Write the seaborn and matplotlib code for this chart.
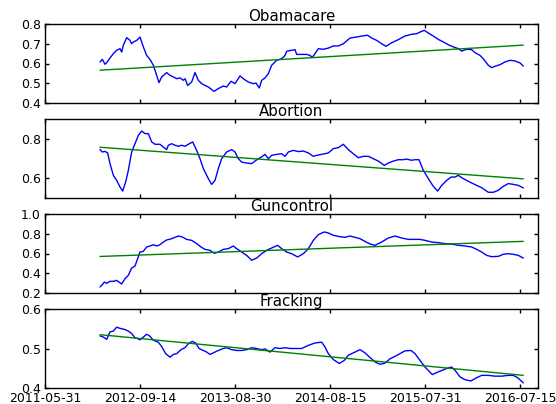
import matplotlib
matplotlib.use("Agg")
import matplotlib.pyplot as plt
import seaborn as sns

# ---------------- data ----------------
titles = ["Obamacare", "Abortion", "Guncontrol", "Fracking"]
tick_labels = ["2011-05-31", "2012-09-14", "2013-08-30", "2014-08-15", "2015-07-31", "2016-07-15"]
tick_pos = [-150, 135, 420, 705, 990, 1275]
x_range = [-150, 1329]

obamacare_x = [15, 22, 30, 35, 45, 55, 65, 75, 80, 85, 95, 105, 110, 115, 125, 135, 145, 155, 165, 175,
               185, 192, 200, 215, 225, 235, 245, 255, 265, 270, 278, 290, 300, 310, 320, 330, 340, 357, 370, 385,
               395, 408, 420, 435, 445, 460, 475, 483, 493, 500, 510, 520, 530, 545, 560, 570, 575, 590, 600, 605,
               620, 635, 645, 652, 660, 670, 685, 700, 715, 730, 745, 765, 785, 800, 818, 830, 845, 860, 873, 890,
               910, 930, 950, 965, 975, 988, 1000, 1015, 1030, 1045, 1060, 1075, 1090, 1100, 1115, 1130, 1140, 1155,
               1165, 1180, 1190, 1200, 1215, 1230, 1245, 1260, 1275, 1285]
obamacare_y = [0.608, 0.621, 0.596, 0.604, 0.628, 0.650, 0.667, 0.675, 0.658, 0.692, 0.731, 0.717, 0.700, 0.709,
               0.717, 0.734, 0.684, 0.641, 0.621, 0.591, 0.540, 0.503, 0.532, 0.554, 0.540, 0.532, 0.523, 0.527,
               0.515, 0.523, 0.489, 0.506, 0.554, 0.515, 0.498, 0.489, 0.481, 0.459, 0.473, 0.486, 0.481, 0.510,
               0.498, 0.537, 0.523, 0.506, 0.498, 0.501, 0.476, 0.515, 0.527, 0.549, 0.591, 0.616, 0.624, 0.641,
               0.662, 0.667, 0.670, 0.646, 0.646, 0.646, 0.641, 0.631, 0.650, 0.675, 0.672, 0.678, 0.689, 0.689,
               0.700, 0.729, 0.734, 0.739, 0.743, 0.729, 0.717, 0.700, 0.687, 0.705, 0.721, 0.739, 0.748, 0.751,
               0.759, 0.768, 0.754, 0.739, 0.722, 0.709, 0.695, 0.684, 0.675, 0.663, 0.672, 0.670, 0.655, 0.641,
               0.624, 0.591, 0.579, 0.586, 0.594, 0.608, 0.616, 0.613, 0.603, 0.587]

abortion_x = [15, 22, 30, 38, 45, 55, 65, 75, 83, 92, 100, 110, 120, 130, 140, 150, 160, 170, 180, 195,
              205, 215, 220, 230, 240, 250, 260, 270, 280, 293, 305, 315, 325, 340, 350, 360, 370, 380, 395, 410,
              420, 430, 440, 455, 470, 480, 490, 500, 510, 520, 530, 545, 560, 570, 580, 595, 610, 625, 640, 655,
              665, 680, 700, 715, 730, 745, 760, 775, 790, 805, 820, 835, 850, 868, 880, 895, 910, 925, 935, 950,
              960, 972, 985, 1000, 1015, 1028, 1040, 1055, 1068, 1080, 1090, 1100, 1115, 1130, 1145, 1160, 1180,
              1195, 1210, 1225, 1240, 1255, 1270, 1285]
abortion_y = [0.746, 0.733, 0.736, 0.728, 0.674, 0.615, 0.589, 0.556, 0.535, 0.581, 0.640, 0.733, 0.775, 0.817,
              0.839, 0.826, 0.826, 0.784, 0.772, 0.772, 0.758, 0.745, 0.767, 0.775, 0.767, 0.762, 0.767, 0.762,
              0.772, 0.784, 0.741, 0.699, 0.649, 0.598, 0.569, 0.589, 0.649, 0.699, 0.733, 0.745, 0.733, 0.699,
              0.682, 0.677, 0.674, 0.687, 0.699, 0.708, 0.721, 0.699, 0.716, 0.721, 0.724, 0.711, 0.733, 0.741,
              0.735, 0.738, 0.728, 0.711, 0.716, 0.721, 0.728, 0.750, 0.755, 0.772, 0.745, 0.724, 0.704, 0.711,
              0.711, 0.699, 0.687, 0.665, 0.677, 0.687, 0.694, 0.694, 0.697, 0.691, 0.694, 0.694, 0.640, 0.598,
              0.559, 0.535, 0.564, 0.589, 0.606, 0.606, 0.615, 0.603, 0.589, 0.576, 0.564, 0.552, 0.529, 0.529,
              0.539, 0.559, 0.573, 0.569, 0.564, 0.551]

guncontrol_x = [15, 22, 28, 35, 45, 55, 65, 72, 80, 90, 100, 110, 120, 128, 135, 145, 155, 165, 175, 185,
                195, 205, 215, 230, 240, 250, 262, 275, 290, 305, 318, 330, 345, 358, 370, 385, 400, 415, 425, 440,
                455, 470, 485, 500, 515, 530, 548, 560, 575, 590, 608, 625, 640, 655, 670, 688, 700, 715, 735, 750,
                765, 780, 795, 810, 825, 840, 860, 880, 900, 920, 940, 960, 975, 990, 1010, 1030, 1050, 1070, 1090,
                1110, 1130, 1145, 1160, 1175, 1190, 1210, 1225, 1240, 1255, 1270, 1285]
guncontrol_y = [0.261, 0.284, 0.311, 0.298, 0.318, 0.318, 0.328, 0.311, 0.291, 0.345, 0.379, 0.453, 0.473,
                0.548, 0.615, 0.622, 0.666, 0.676, 0.689, 0.676, 0.689, 0.716, 0.737, 0.750, 0.764, 0.777, 0.767,
                0.743, 0.733, 0.700, 0.666, 0.642, 0.632, 0.602, 0.615, 0.642, 0.649, 0.676, 0.649, 0.615, 0.581,
                0.531, 0.554, 0.598, 0.632, 0.656, 0.683, 0.649, 0.615, 0.598, 0.565, 0.598, 0.649, 0.733, 0.791,
                0.818, 0.808, 0.784, 0.770, 0.764, 0.777, 0.764, 0.750, 0.723, 0.696, 0.683, 0.716, 0.757, 0.777,
                0.757, 0.743, 0.743, 0.743, 0.733, 0.716, 0.710, 0.700, 0.696, 0.683, 0.676, 0.666, 0.642, 0.615,
                0.581, 0.568, 0.571, 0.592, 0.598, 0.592, 0.581, 0.554]

fracking_x = [15, 25, 35, 45, 55, 65, 75, 90, 100, 110, 120, 128, 135, 145, 155, 165, 175, 190, 200, 212,
              225, 235, 245, 258, 270, 280, 292, 302, 312, 325, 335, 345, 355, 370, 385, 395, 410, 425, 440, 455,
              470, 485, 500, 510, 525, 540, 555, 570, 585, 600, 620, 640, 660, 680, 690, 700, 715, 733, 748, 760,
              775, 795, 810, 825, 840, 855, 870, 885, 900, 915, 930, 948, 960, 975, 990, 1012, 1030, 1045, 1060,
              1070, 1080, 1095, 1110, 1128, 1145, 1160, 1180, 1200, 1220, 1240, 1255, 1268, 1285]
fracking_y = [0.532, 0.529, 0.523, 0.542, 0.544, 0.554, 0.551, 0.548, 0.544, 0.538, 0.527, 0.525, 0.522, 0.529,
              0.536, 0.531, 0.521, 0.516, 0.505, 0.487, 0.478, 0.485, 0.487, 0.497, 0.502, 0.512, 0.518, 0.514,
              0.500, 0.495, 0.491, 0.485, 0.489, 0.495, 0.500, 0.502, 0.497, 0.495, 0.495, 0.497, 0.502, 0.500,
              0.497, 0.499, 0.491, 0.502, 0.500, 0.502, 0.500, 0.500, 0.500, 0.508, 0.514, 0.516, 0.504, 0.487,
              0.472, 0.462, 0.470, 0.483, 0.489, 0.497, 0.489, 0.477, 0.466, 0.460, 0.463, 0.474, 0.480, 0.487,
              0.494, 0.495, 0.487, 0.470, 0.453, 0.434, 0.441, 0.446, 0.451, 0.453, 0.445, 0.428, 0.421, 0.418,
              0.426, 0.432, 0.432, 0.430, 0.430, 0.432, 0.432, 0.426, 0.413]

# linear trend end values (start, end)
trend_x = [15, 1285]
obamacare_trend = [0.566, 0.693]
abortion_trend = [0.757, 0.597]
guncontrol_trend = [0.570, 0.723]
fracking_trend = [0.535, 0.432]

ylims = [(0.4, 0.8), (0.5, 0.9), (0.2, 1.0), (0.4, 0.6)]
yticks = [[0.4, 0.5, 0.6, 0.7, 0.8], [0.6, 0.8], [0.2, 0.4, 0.6, 0.8, 1.0], [0.4, 0.5, 0.6]]

series = [
    (obamacare_x, obamacare_y, obamacare_trend),
    (abortion_x, abortion_y, abortion_trend),
    (guncontrol_x, guncontrol_y, guncontrol_trend),
    (fracking_x, fracking_y, fracking_trend),
]

# ---------------- style ----------------
sns.set_style("white")
plt.rcParams.update({
    "font.family": ["DejaVu Sans"],
    "text.color": "black",
    "axes.labelcolor": "black",
    "axes.titlecolor": "black",
    "axes.edgecolor": "black",
    "axes.linewidth": 1.0,
    "xtick.direction": "in",
    "ytick.direction": "in",
    "xtick.top": True,
    "ytick.right": True,
    "xtick.bottom": True,
    "ytick.left": True,
    "xtick.major.size": 3,
    "ytick.major.size": 3,
    "xtick.major.width": 1,
    "ytick.major.width": 1,
    "xtick.color": "black",
    "ytick.color": "black",
    "xtick.labelcolor": "black",
    "ytick.labelcolor": "black",
    "xtick.labelsize": 9,
    "ytick.labelsize": 9,
})

fig, axes = plt.subplots(4, 1, figsize=(5.56, 4.04), dpi=100, sharex=True)
fig.subplots_adjust(left=45 / 556, right=538 / 556, top=1 - 24 / 404, bottom=1 - 388 / 404,
                    hspace=16 / 79)

for ax, title, (xs, ys, tr), yl, yt in zip(axes, titles, series, ylims, yticks):
    sns.lineplot(x=xs, y=ys, ax=ax, color=(0, 0, 1), linewidth=1.0, sort=False, estimator=None)
    sns.lineplot(x=trend_x, y=tr, ax=ax, color=(0, 0.5, 0), linewidth=1.0, estimator=None)
    ax.set_ylim(*yl)
    ax.set_yticks(yt)
    ax.set_yticklabels([f"{v:.1f}" for v in yt])
    ax.set_xlim(*x_range)
    ax.set_title(title, fontsize=10.8, pad=2, color="black")
    ax.set_xlabel("")
    ax.set_ylabel("")
    for s in ax.spines.values():
        s.set_visible(True)
        s.set_color("black")
    ax.tick_params(axis="both", which="both", direction="in", top=True, right=True, pad=3,
                   colors="black", labelcolor="black")

axes[-1].set_xticks(tick_pos)
axes[-1].set_xticklabels(tick_labels)

fig.savefig("out.png", dpi=100, facecolor="white")
